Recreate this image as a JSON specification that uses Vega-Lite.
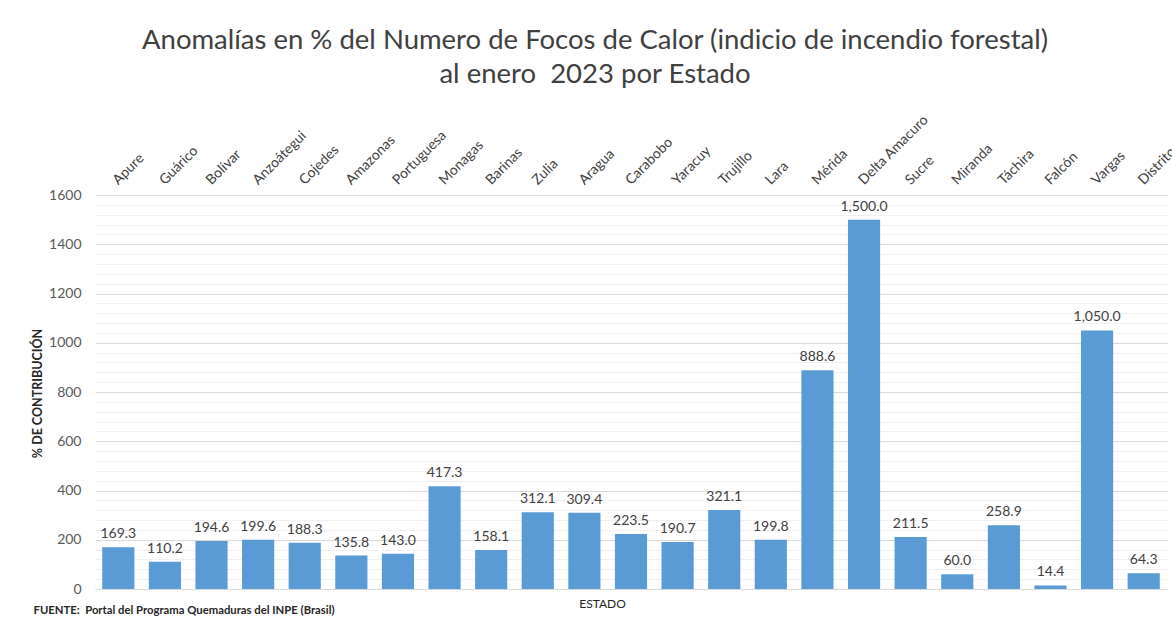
{
  "$schema": "https://vega.github.io/schema/vega-lite/v6.json",
  "width": 1072,
  "height": 394,
  "autosize": {"type": "none"},
  "padding": {"left": 95, "top": 195, "right": 5, "bottom": 35},
  "background": "white",
  "config": {
    "font": "Lato",
    "view": {"stroke": null}
  },
  "title": {
    "text": ["Anomalías en % del Numero de Focos de Calor (indicio de incendio forestal)", "al enero\u00a0 2023 por Estado"],
    "fontSize": 27.5,
    "fontWeight": "normal",
    "color": "#404040",
    "anchor": "middle",
    "frame": "group",
    "dx": -36,
    "lineHeight": 34,
    "offset": 23
  },
  "data": {
    "values": [
      {"estado": "Apure", "valor": 169.3},
      {"estado": "Guárico", "valor": 110.2},
      {"estado": "Bolívar", "valor": 194.6},
      {"estado": "Anzoátegui", "valor": 199.6},
      {"estado": "Cojedes", "valor": 188.3},
      {"estado": "Amazonas", "valor": 135.8},
      {"estado": "Portuguesa", "valor": 143.0},
      {"estado": "Monagas", "valor": 417.3},
      {"estado": "Barinas", "valor": 158.1},
      {"estado": "Zulia", "valor": 312.1},
      {"estado": "Aragua", "valor": 309.4},
      {"estado": "Carabobo", "valor": 223.5},
      {"estado": "Yaracuy", "valor": 190.7},
      {"estado": "Trujillo", "valor": 321.1},
      {"estado": "Lara", "valor": 199.8},
      {"estado": "Mérida", "valor": 888.6},
      {"estado": "Delta Amacuro", "valor": 1500.0},
      {"estado": "Sucre", "valor": 211.5},
      {"estado": "Miranda", "valor": 60.0},
      {"estado": "Táchira", "valor": 258.9},
      {"estado": "Falcón", "valor": 14.4},
      {"estado": "Vargas", "valor": 1050.0},
      {"estado": "Distrito Capital", "valor": 64.3}
    ]
  },
  "layer": [
    {
      "mark": {"type": "bar", "color": "#5B9BD5"},
      "encoding": {
        "x": {
          "field": "estado", "type": "nominal", "sort": null,
          "scale": {"paddingInner": 0.31, "paddingOuter": 0.155},
          "axis": {
            "orient": "top", "title": null, "labelAngle": -45, "labelAlign": "left",
            "labelBaseline": "alphabetic", "labelPadding": 10, "labelFontSize": 14,
            "labelColor": "#404040", "ticks": false, "domain": false, "labelOverlap": false, "labelBound": false
          }
        },
        "y": {
          "field": "valor", "type": "quantitative",
          "scale": {"domain": [0, 1600], "nice": false},
          "axis": {
            "orient": "left", "values": [0, 200, 400, 600, 800, 1000, 1200, 1400, 1600], "format": "d",
            "title": "% DE CONTRIBUCIÓN", "titleFontSize": 12.5, "titleFontWeight": "bold",
            "titleColor": "#262626", "titleX": -58, "titleY": 198, "titleAngle": 270,
            "titleAlign": "center", "titleBaseline": "middle",
            "labelFontSize": 14, "labelColor": "#595959", "labelPadding": 14,
            "ticks": false, "domain": false, "gridColor": "#d9d9d9", "gridWidth": 1
          }
        }
      }
    },
    {
      "mark": {"type": "text", "baseline": "alphabetic", "dy": -9, "fontSize": 14, "color": "#404040"},
      "encoding": {
        "x": {
          "field": "estado", "type": "nominal", "sort": null,
          "axis": {
            "orient": "bottom", "labels": false, "ticks": false, "domain": true, "domainColor": "#d9d9d9",
            "title": "ESTADO", "titleFontSize": 12, "titleFontWeight": "normal", "titleColor": "#262626",
            "titleX": 507, "titleY": 18, "titleAlign": "center", "titleBaseline": "alphabetic"
          }
        },
        "y": {
          "field": "valor", "type": "quantitative",
          "axis": {
            "orient": "left", "labels": false, "ticks": false, "domain": false,
            "values": [40, 80, 120, 160, 240, 280, 320, 360, 440, 480, 520, 560, 640, 680, 720, 760, 840, 880, 920, 960, 1040, 1080, 1120, 1160, 1240, 1280, 1320, 1360, 1440, 1480, 1520, 1560],
            "grid": true, "gridColor": "#f0f0f0",
            "title": "FUENTE:\u00a0 Portal del Programa Quemaduras del INPE (Brasil)",
            "titleFontSize": 11.3, "titleFontWeight": "bold", "titleColor": "#262626",
            "titleAngle": 0, "titleX": -62, "titleY": 418, "titleAlign": "left", "titleBaseline": "alphabetic"
          }
        },
        "text": {"field": "valor", "type": "quantitative", "format": ",.1f"}
      }
    }
  ],
  "resolve": {"axis": {"x": "independent", "y": "independent"}}
}
